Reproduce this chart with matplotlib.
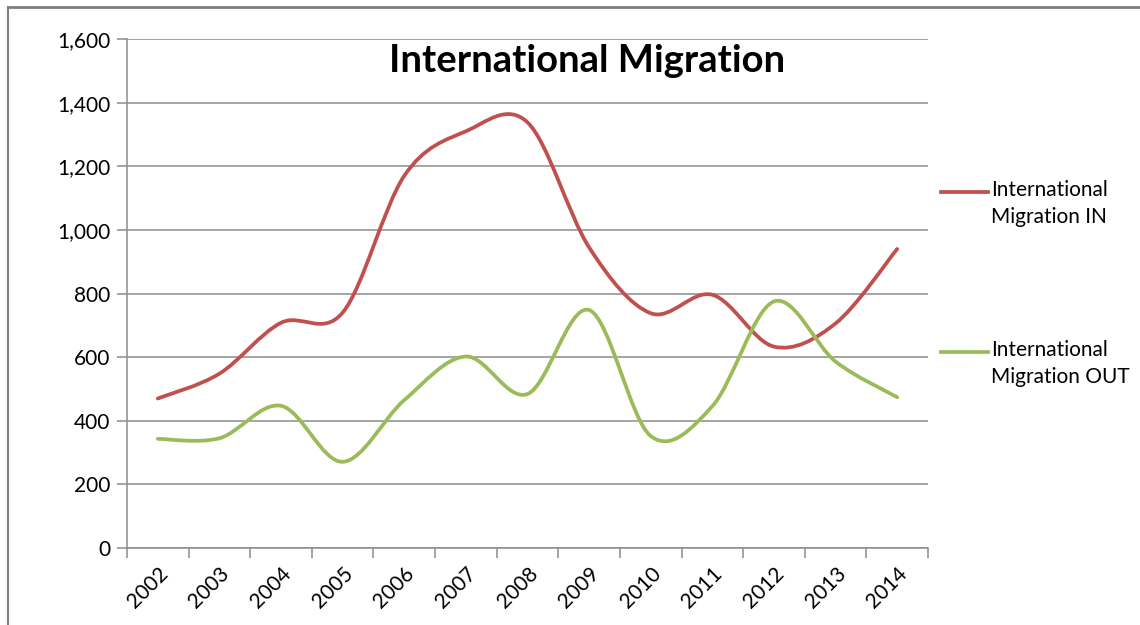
import matplotlib
matplotlib.use("Agg")
import matplotlib.pyplot as plt
import numpy as np
from matplotlib.path import Path
from matplotlib.patches import PathPatch
from matplotlib.lines import Line2D

# dane
years = ["2002", "2003", "2004", "2005", "2006", "2007", "2008",
         "2009", "2010", "2011", "2012", "2013", "2014"]
migr_in = [470, 548, 708, 740, 1170, 1310, 1338, 945, 738, 796, 633, 706, 940]
migr_out = [343, 345, 447, 271, 465, 602, 484, 748, 352, 446, 775, 586, 474]
series_names = ["International\nMigration IN", "International\nMigration OUT"]
yticks = [0, 200, 400, 600, 800, 1000, 1200, 1400, 1600]

red = "#C0504D"
green = "#9BBB59"
grid_c = "#8C8C8C"

plt.rcParams['font.family'] = ['Lato', 'DejaVu Sans']


def smooth_path(xs, ys):
    # krzywe Beziera jak wygladzanie w Excelu
    n = len(xs)
    pts = list(zip(xs, ys))
    verts = [pts[0]]
    codes = [Path.MOVETO]
    for i in range(n - 1):
        p0 = pts[i - 1] if i > 0 else pts[i]
        p1 = pts[i]
        p2 = pts[i + 1]
        p3 = pts[i + 2] if i + 2 < n else pts[i + 1]
        c1 = (p1[0] + (p2[0] - p0[0]) / 6, p1[1] + (p2[1] - p0[1]) / 6)
        c2 = (p2[0] - (p3[0] - p1[0]) / 6, p2[1] - (p3[1] - p1[1]) / 6)
        verts += [c1, c2, p2]
        codes += [Path.CURVE4] * 3
    return Path(verts, codes)


fig = plt.figure(figsize=(11.4, 6.25), dpi=100)
ax = fig.add_axes([127 / 1140, 1 - 548 / 625, 801 / 1140, 509 / 625])

x = np.arange(len(years))
for vals, col in [(migr_in, red), (migr_out, green)]:
    patch = PathPatch(smooth_path(x, vals), facecolor="none", edgecolor=col,
                      lw=2.7, capstyle="round", joinstyle="round", zorder=3)
    ax.add_patch(patch)

ax.set_xlim(-0.5, len(years) - 0.5)
ax.set_ylim(0, 1600)
ax.set_yticks(yticks)
ax.set_yticklabels(["{:,}".format(v) for v in yticks], fontsize=15)
ax.yaxis.grid(True, color=grid_c, lw=1.1)
ax.set_axisbelow(True)

ax.set_xticks(np.arange(-0.5, len(years)), minor=False)
ax.set_xticklabels([])
ax.set_xticks(x, minor=True)
ax.set_xticklabels(years, minor=True, rotation=45, ha="right",
                   rotation_mode="anchor", fontsize=15)
ax.tick_params(axis="x", which="major", length=7, color=grid_c, width=1.1)
ax.tick_params(axis="x", which="minor", length=0, pad=11)
ax.tick_params(axis="y", length=7, color=grid_c, width=1.1, pad=5)

for s in ["top", "right"]:
    ax.spines[s].set_visible(False)
for s in ["left", "bottom"]:
    ax.spines[s].set_color(grid_c)
    ax.spines[s].set_linewidth(1.1)

fig.text(587 / 1140, 1 - 61 / 625, "International Migration", fontsize=27.5,
         fontweight="bold", ha="center", va="center")

# legenda
for name, col, ly in [(series_names[0], red, 192), (series_names[1], green, 352)]:
    fy = 1 - ly / 625
    fig.add_artist(Line2D([941 / 1140, 988 / 1140], [fy, fy], color=col, lw=2.7,
                          transform=fig.transFigure))
    fig.text(991 / 1140, fy + 12 / 625, name, fontsize=15, ha="left", va="top",
             linespacing=1.45)

# ramka
fig.add_artist(Line2D([8 / 1140, 1], [1 - 7 / 625, 1 - 7 / 625], color="#7F7F7F",
                      lw=2, transform=fig.transFigure))
fig.add_artist(Line2D([8 / 1140, 8 / 1140], [0, 1 - 7 / 625], color="#7F7F7F",
                      lw=1.5, transform=fig.transFigure))

fig.savefig("out.png", dpi=100)
